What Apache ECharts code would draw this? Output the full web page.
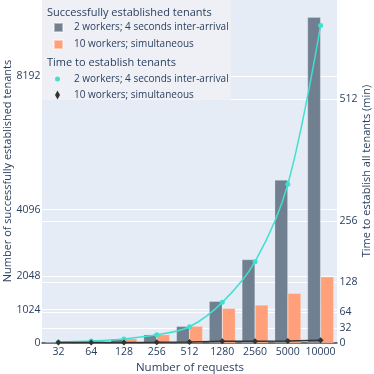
<!DOCTYPE html>
<html>
<head>
<meta charset="utf-8">
<script src="https://cdn.jsdelivr.net/npm/echarts@6/dist/echarts.min.js"></script>
<style>
  html, body { margin: 0; padding: 0; background: #fff; }
  #chart { width: 374px; height: 374px; }
</style>
</head>
<body>
<div id="chart"></div>
<script>
    var requests = ['32', '64', '128', '256', '512', '1280', '2560', '5000', '10000'];
    // successfully established tenants
    var tenantsStaggered = [32, 64, 128, 256, 512, 1280, 2560, 5000, 10000];
    var tenantsSimultaneous = [32, 64, 135, 262, 518, 1064, 1166, 1525, 2035];
    // time to establish all tenants (min)
    var timeStaggered = [2.1, 4.3, 8.5, 17.1, 34.1, 85.3, 170.7, 333.3, 666.7];
    var timeSimultaneous = [0.8, 1, 1.2, 1.5, 2, 3.5, 3.5, 4.2, 5.6];
    var leftTicks = [0, 1024, 2048, 4096, 8192];
    var rightTicks = [0, 32, 64, 128, 256, 512];

    var textColor = '#2a3f5f';
    var font = 'Open Sans';
    var plain = function (v) { return String(v); };

    // axis titles and legend group titles
    var titleText = function (text, x, y, rotation, size) {
        return {
            type: 'text', x: x, y: y, rotation: rotation, z: 6,
            style: {
                text: text, fill: textColor, fontFamily: font, fontSize: size,
                align: rotation === 0 && x < 100 ? 'left' : 'center', verticalAlign: 'middle'
            }
        };
    };

    var myChart = echarts.init(document.getElementById('chart'));
    var option = {
        animation: false,
        textStyle: { fontFamily: font, color: textColor },
        grid: {
            left: 42, right: 37, top: 0, bottom: 31,
            outerBoundsMode: 'none',
            containLabel: false,
            show: true, backgroundColor: '#E5ECF6', borderWidth: 0
        },
        graphic: [{
            type: 'rect', left: 42, top: 0, z: 5,
            shape: { width: 189, height: 100 },
            style: { fill: 'rgba(238,241,246,0.9)' }
        },
            titleText('Successfully established tenants', 47, 13, 0, 11),
            titleText('Time to establish tenants', 47, 63, 0, 11),
            titleText('Number of requests', 190, 368, 0, 11.5),
            titleText('Number of successfully established tenants', 8, 171, Math.PI / 2, 11),
            titleText('Time to establish all tenants (min)', 367, 171, Math.PI / 2, 11)
        ],
        legend: [{
            left: 53, top: 22, orient: 'vertical', padding: 0,
            itemWidth: 9, itemHeight: 9, itemGap: 6, z: 6,
            icon: 'rect',
            textStyle: { fontSize: 10, color: textColor, fontFamily: font, padding: [0, 0, 0, 6] },
            data: ['2 workers; 4 seconds inter-arrival', '10 workers; simultaneous']
        }, {
            left: 55, top: 74, orient: 'vertical', padding: 0,
            itemWidth: 5, itemHeight: 9, itemGap: 6, z: 6,
            textStyle: { fontSize: 10, color: textColor, fontFamily: font, padding: [0, 0, 0, 9] },
            data: [
                { name: '2 workers; 4 seconds inter-arrival ', icon: 'circle' },
                { name: '10 workers; simultaneous ', icon: 'diamond' }
            ]
        }],
        xAxis: {
            type: 'category',
            data: requests,
            axisLine: { show: true, lineStyle: { color: '#444', width: 1.5 } },
            axisTick: { show: false },
            axisLabel: { fontSize: 10.5, color: textColor, margin: 4, interval: 0, hideOverlap: false },
            splitLine: { show: false }
        },
        yAxis: [{
            type: 'value', min: 0, max: 10526,
            axisLine: { show: false },
            axisTick: { show: false, customValues: leftTicks },
            axisLabel: { fontSize: 10.5, color: textColor, margin: 1.5, customValues: leftTicks, formatter: plain },
            splitLine: { show: true, lineStyle: { color: '#fff', width: 1 } }
        }, {
            type: 'value', min: 0, max: 720,
            position: 'right',
            axisLine: { show: false },
            axisTick: { show: false, customValues: rightTicks },
            axisLabel: { fontSize: 10.5, color: textColor, margin: 2.5, customValues: rightTicks, formatter: plain },
            splitLine: { show: true, lineStyle: { color: '#fff', width: 1 } }
        }],
        series: [{
            name: '2 workers; 4 seconds inter-arrival',
            type: 'bar',
            yAxisIndex: 0,
            data: tenantsStaggered,
            barGap: '0%',
            barCategoryGap: '20%',
            z: 3,
            itemStyle: { color: '#708090', borderColor: 'rgba(255,255,255,0.45)', borderWidth: 0.5 }
        }, {
            name: '10 workers; simultaneous',
            type: 'bar',
            yAxisIndex: 0,
            data: tenantsSimultaneous,
            z: 3,
            itemStyle: { color: '#FFA07A', borderColor: 'rgba(255,255,255,0.45)', borderWidth: 0.5 }
        }, {
            name: '2 workers; 4 seconds inter-arrival ',
            type: 'line',
            yAxisIndex: 1,
            data: timeStaggered,
            smooth: 0.35,
            symbol: 'circle',
            symbolSize: 5,
            z: 4,
            lineStyle: { color: '#40E0D0', width: 1.5 },
            itemStyle: { color: '#40E0D0' }
        }, {
            name: '10 workers; simultaneous ',
            type: 'line',
            yAxisIndex: 1,
            data: timeSimultaneous,
            symbol: 'diamond',
            symbolSize: 6,
            z: 4,
            lineStyle: { color: '#333', width: 1.5 },
            itemStyle: { color: '#333' }
        }]
    };
    myChart.setOption(option);
</script>
</body>
</html>
